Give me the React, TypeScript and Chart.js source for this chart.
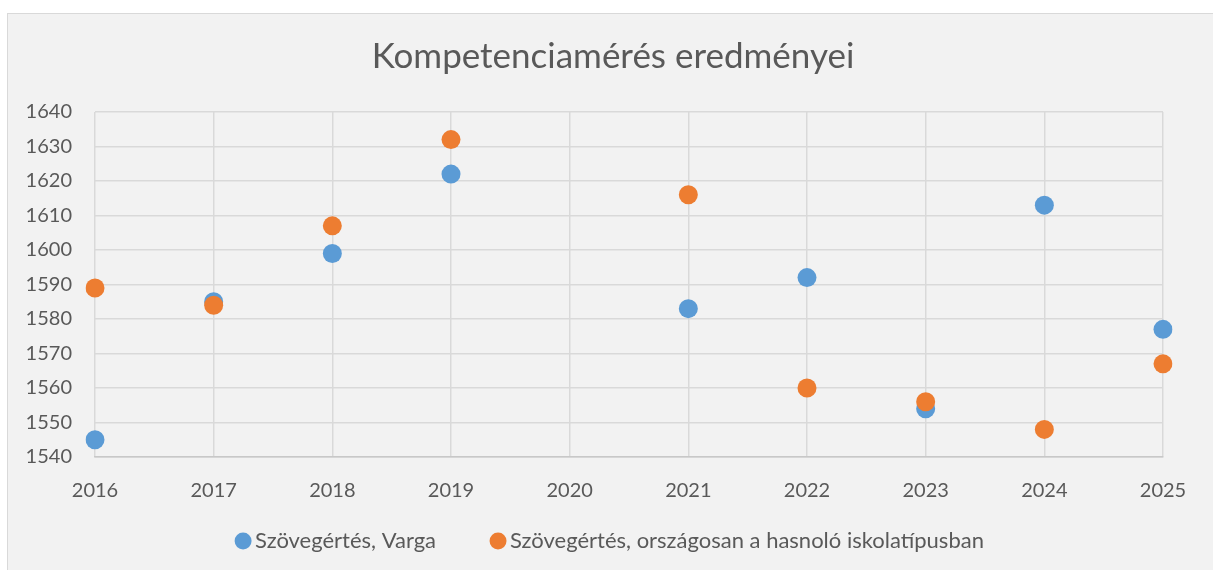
import React, { useEffect, useRef } from "react";
import { Chart, registerables } from "chart.js";

Chart.register(...registerables);

const years = ["2016", "2017", "2018", "2019", "2020", "2021", "2022", "2023", "2024", "2025"];
const vargaScores: (number | null)[] = [1545, 1585, 1599, 1622, null, 1583, 1592, 1554, 1613, 1577];
const nationalScores: (number | null)[] = [1589, 1584, 1607, 1632, null, 1616, 1560, 1556, 1548, 1567];
const yMin = 1540;
const yMax = 1640;
const yStep = 10;
const titleText = "Kompetenciamérés eredményei";
const seriesNames = ["Szövegértés, Varga", "Szövegértés, országosan a hasnoló iskolatípusban"];

const FONT = "Lato";
const TEXT = "#595959";
const GRID = "#d9d9d9";
const CW = 1226;
const CH = 570;

// let the axis labels use the space outside the tight axis boxes
const expandLabelAreas = {
  id: "expandLabelAreas",
  afterLayout(chart: any) {
    const x = chart.scales.x;
    const y = chart.scales.y;
    if (x) x.bottom = chart.height;
    if (y) y.left = 0;
  },
};

export default function App() {
  const ref = useRef<HTMLCanvasElement | null>(null);

  useEffect(() => {
    if (!ref.current) return;
    const chart = new Chart(ref.current, {
      type: "line",
      data: {
        labels: years,
        datasets: [
          {
            label: seriesNames[0],
            data: vargaScores,
            showLine: false,
            backgroundColor: "#5b9bd5",
            borderColor: "#5b9bd5",
            pointBackgroundColor: "#5b9bd5",
            pointBorderWidth: 0,
            pointRadius: 9.5,
            pointHoverRadius: 9.5,
            order: 1,
          },
          {
            label: seriesNames[1],
            data: nationalScores,
            showLine: false,
            backgroundColor: "#ed7d31",
            borderColor: "#ed7d31",
            pointBackgroundColor: "#ed7d31",
            pointBorderWidth: 0,
            pointRadius: 9.5,
            pointHoverRadius: 9.5,
            order: 0,
          },
        ],
      },
      options: {
        responsive: false,
        animation: false,
        layout: { padding: { left: 63, right: 63, top: 0, bottom: 8 } },
        plugins: {
          tooltip: { enabled: false },
          title: {
            display: true,
            text: titleText,
            color: TEXT,
            font: { family: FONT, size: 35, weight: "normal" },
            padding: { top: 36, bottom: 34 },
          },
          legend: {
            position: "bottom",
            labels: {
              usePointStyle: true,
              pointStyle: "circle",
              boxWidth: 2,
              boxHeight: 12,
              padding: 61,
              color: TEXT,
              font: { family: FONT, size: 22 },
              sort: (a: any, b: any) => a.datasetIndex - b.datasetIndex,
            },
          },
        },
        scales: {
          x: {
            type: "category",
            offset: false,
            grid: { color: GRID, lineWidth: 1.5, drawTicks: false },
            border: { color: "#c8c8c8", width: 1.5 },
            ticks: { color: TEXT, font: { family: FONT, size: 20 }, padding: 22, maxRotation: 0, autoSkip: false },
            afterFit: (s: any) => {
              s.height = 12;
            },
          },
          y: {
            min: yMin,
            max: yMax,
            grid: { color: GRID, lineWidth: 1.5, drawTicks: false },
            border: { display: false },
            ticks: {
              stepSize: yStep,
              color: TEXT,
              font: { family: FONT, size: 20 },
              padding: 23,
              callback: (v: any) => String(v),
            },
            afterFit: (s: any) => {
              s.width = 32;
            },
          },
        },
      },
      plugins: [expandLabelAreas],
    });
    return () => chart.destroy();
  }, []);

  return (
    <div style={{ position: "fixed", left: 0, top: 0, width: 1213, height: 570, overflow: "hidden", background: "#fff" }}>
      <div
        style={{
          position: "absolute",
          left: 7,
          top: 13,
          width: 1230,
          height: 600,
          background: "#f2f2f2",
          border: "1px solid #d9d9d9",
        }}
      />
      <canvas ref={ref} width={CW} height={CH} style={{ position: "absolute", left: 0, top: 0, width: CW, height: CH }} />
    </div>
  );
}
